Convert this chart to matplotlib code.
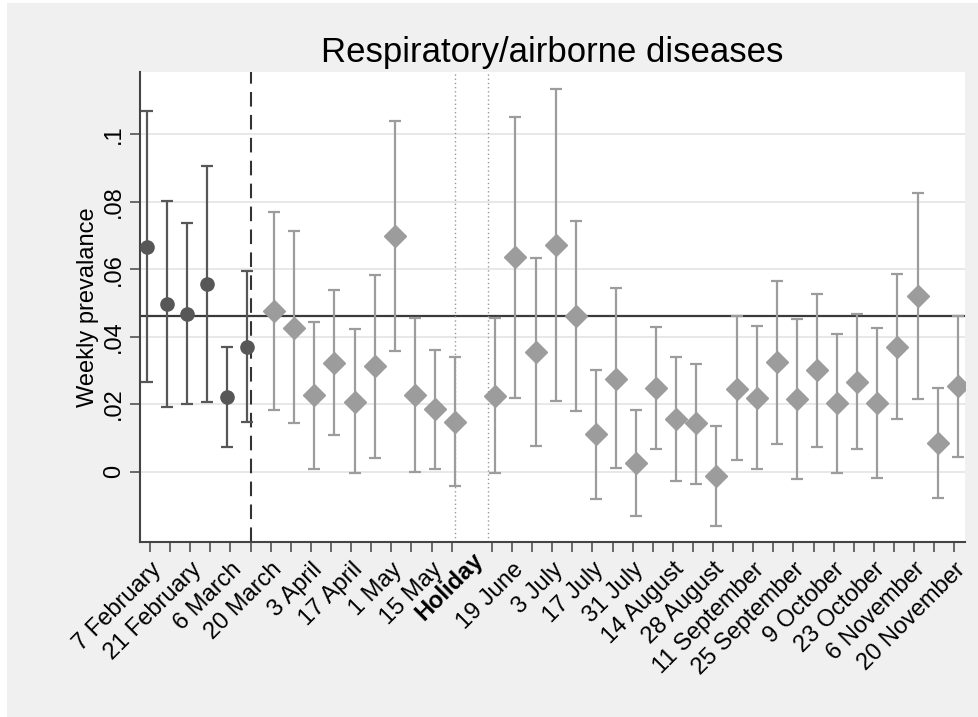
import numpy as np
import matplotlib
matplotlib.use("Agg")
import matplotlib.pyplot as plt
from matplotlib.patches import Rectangle
from matplotlib.ticker import FixedLocator, FuncFormatter

plt.rcParams['font.family'] = ['Liberation Sans', 'DejaVu Sans']

# Weekly prevalence before lockdown (7 Feb - 13 Mar), circles
pre_slots = [0, 1, 2, 3, 4, 5]
pre_prev = [0.0666, 0.0497, 0.0468, 0.0555, 0.0220, 0.0370]
pre_hi = [0.1068, 0.0802, 0.0738, 0.0905, 0.0369, 0.0594]
pre_lo = [0.0266, 0.0191, 0.0201, 0.0206, 0.0073, 0.0148]

# After lockdown (20 Mar - 22 May, then 12 Jun - 20 Nov), diamonds
post_slots = list(range(6, 16)) + list(range(17, 41))
post_prev = [0.0476, 0.0427, 0.0226, 0.0323, 0.0207, 0.0313, 0.0698, 0.0227, 0.0185, 0.0148,
             0.0225, 0.0635, 0.0355, 0.0673, 0.0461, 0.0110, 0.0275, 0.0025, 0.0248, 0.0156,
             0.0143, -0.0012, 0.0246, 0.0219, 0.0325, 0.0214, 0.0300, 0.0202, 0.0265, 0.0202,
             0.0370, 0.0520, 0.0085, 0.0255]
post_hi = [0.0769, 0.0712, 0.0444, 0.0538, 0.0424, 0.0584, 0.1040, 0.0454, 0.0361, 0.0339,
           0.0454, 0.1052, 0.0634, 0.1135, 0.0743, 0.0300, 0.0543, 0.0182, 0.0428, 0.0339,
           0.0319, 0.0136, 0.0461, 0.0431, 0.0566, 0.0451, 0.0527, 0.0409, 0.0466, 0.0425,
           0.0586, 0.0825, 0.0249, 0.0462]
post_lo = [0.0183, 0.0145, 0.0008, 0.0109, -0.0005, 0.0040, 0.0357, 0.0000, 0.0007, -0.0042,
           -0.0003, 0.0219, 0.0077, 0.0210, 0.0181, -0.0082, 0.0010, -0.0131, 0.0067, -0.0029,
           -0.0036, -0.0161, 0.0033, 0.0007, 0.0081, -0.0021, 0.0073, -0.0005, 0.0066, -0.0019,
           0.0156, 0.0215, -0.0079, 0.0044]

mean_prev = 0.046
lockdown = 5
holiday_bounds = [15.17, 16.83]

# every other week is labelled; slot 16 is the holiday gap
label_slots = list(range(0, 41, 2))
label_names = ["7 February", "21 February", "6 March", "20 March", "3 April", "17 April",
               "1 May", "15 May", "Holiday", "19 June", "3 July", "17 July", "31 July",
               "14 August", "28 August", "11 September", "25 September", "9 October",
               "23 October", "6 November", "20 November"]
holiday_slot = 16
yticks = [0, 0.02, 0.04, 0.06, 0.08, 0.1]

dark = '#575757'
light = '#9c9c9c'
axcol = '#444444'

fig = plt.figure(figsize=(9.79, 7.17), dpi=100, facecolor='white')
# light gray graph region inside a thin white border
fig.patches.append(Rectangle((7 / 979, 0), 1, 1 - 3 / 717, transform=fig.transFigure,
                             facecolor='#f0f0f0', edgecolor='none', zorder=-10))
ax = fig.add_axes([0.1430, 0.2445, 0.8427, 0.6547])
ax.set_facecolor('white')

for y in yticks:
    ax.axhline(y, color='#e6e6e6', lw=1.3, zorder=0)

ax.axhline(mean_prev, color='#3a3a3a', lw=1.6, zorder=1)
ax.axvline(lockdown, color='#333333', lw=1.5, ls=(0, (7, 4)), zorder=1)
for xb in holiday_bounds:
    ax.axvline(xb, color='#999999', lw=1.0, ls=(0, (1, 2)), zorder=1)

off = 0.17
pre_x = np.array(pre_slots) - off
pre_p = np.array(pre_prev)
ax.errorbar(pre_x, pre_p, yerr=[pre_p - np.array(pre_lo), np.array(pre_hi) - pre_p],
            fmt='o', color=dark, ecolor=dark, elinewidth=1.6, capsize=4.5, capthick=1.6,
            markersize=9.5, zorder=3)

post_x = np.array(post_slots) + off
post_p = np.array(post_prev)
ax.errorbar(post_x, post_p, yerr=[post_p - np.array(post_lo), np.array(post_hi) - post_p],
            fmt='D', color=light, ecolor=light, elinewidth=1.6, capsize=4.5, capthick=1.6,
            markersize=11, zorder=3)

ax.set_xlim(-0.5, 40.53)
ax.set_ylim(-0.0208, 0.1184)

tick_slots = [s for s in range(41) if s != holiday_slot]
ax.xaxis.set_major_locator(FixedLocator(tick_slots))
ax.set_xticklabels([label_names[label_slots.index(s)] if s in label_slots else '' for s in tick_slots])
ax.xaxis.set_minor_locator(FixedLocator([holiday_slot]))
ax.set_xticklabels(['Holiday'], minor=True, fontweight='bold')
ax.tick_params(axis='x', which='minor', length=0)
for lab in ax.get_xticklabels() + ax.get_xticklabels(minor=True):
    lab.set_rotation(45)
    lab.set_ha('right')
    lab.set_va('top')
    lab.set_rotation_mode('anchor')
ax.tick_params(axis='x', which='both', labelsize=17, pad=5)
ax.tick_params(axis='x', which='major', length=7, width=1.1, color=axcol)

ax.set_yticks(yticks)
ax.yaxis.set_major_formatter(FuncFormatter(lambda v, p: '0' if v == 0 else ('%.2f' % v).lstrip('0').rstrip('0')))
ax.tick_params(axis='y', labelsize=17, length=7, width=1.1, color=axcol, pad=4)
for lab in ax.get_yticklabels():
    lab.set_rotation(90)
    lab.set_va('center')
ax.set_ylabel('Weekly prevalance', fontsize=17, labelpad=3)

for s in ['top', 'right']:
    ax.spines[s].set_visible(False)
for s in ['left', 'bottom']:
    ax.spines[s].set_color(axcol)
    ax.spines[s].set_linewidth(1.5)

fig.text(552 / 979, 1 - 62 / 717, 'Respiratory/airborne diseases', fontsize=25,
         ha='center', va='baseline')

fig.savefig('out.png', dpi=100, facecolor=fig.get_facecolor())
